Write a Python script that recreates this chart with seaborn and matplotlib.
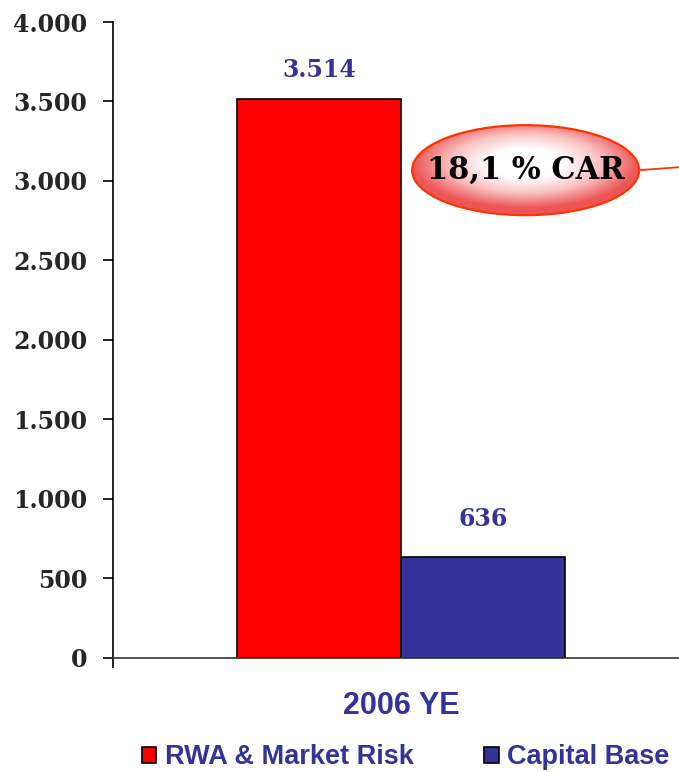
import matplotlib
matplotlib.use("Agg")
import matplotlib.pyplot as plt
import matplotlib.patches as mpatches
from matplotlib.colors import LinearSegmentedColormap
from matplotlib.ticker import FuncFormatter
import numpy as np
import pandas as pd
import seaborn as sns

periods = ["2006 YE"]
series = ["RWA & Market Risk", "Capital Base"]
values = [3514, 636]
colors = ["#FF0000", "#333399"]
car_label = "18,1 % CAR"

sns.set_style("ticks")
plt.rcParams["font.family"] = ["DejaVu Serif"]
sans = ["Liberation Sans", "DejaVu Sans"]

df = pd.DataFrame({"period": periods * len(series), "series": series, "value": values})

fig = plt.figure(figsize=(6.79, 7.72), dpi=100)
ax = fig.add_axes([0.1664, 0.1477, 0.8336, 0.8238])

sns.barplot(data=df, x="period", y="value", hue="series", palette=colors,
            edgecolor="black", linewidth=1.2, legend=False, ax=ax, width=0.8,
            saturation=1)

ax.set_ylim(0, 4000)
ax.set_xlim(-0.703, 0.677)
ax.set_yticks(np.arange(0, 4001, 500))
ax.yaxis.set_major_formatter(FuncFormatter(lambda v, p: f"{v:,.0f}".replace(",", ".")))
ax.tick_params(axis="y", direction="out", length=7.5, width=1.2, color="black",
               labelsize=17, pad=11)
for lab in ax.get_yticklabels():
    lab.set_fontweight("bold")

ax.set_xticks([-0.703])
ax.set_xticklabels([""])
ax.tick_params(axis="x", direction="out", length=7.5, width=1.2, color="black")
ax.set_xlabel("")
ax.set_ylabel("")
ax.text(0, -0.075, periods[0], transform=ax.get_xaxis_transform(), ha="center", va="center",
        fontsize=22, fontweight="bold", color="#333399", family=sans)

for sp in ["top", "right"]:
    ax.spines[sp].set_visible(False)
ax.spines["left"].set_linewidth(1.2)
ax.spines["left"].set_color("black")
ax.spines["bottom"].set_linewidth(1.2)
ax.spines["bottom"].set_color("#333333")

# value labels
for bar, v in zip(ax.patches, values):
    ax.annotate(f"{v:,.0f}".replace(",", "."), (bar.get_x() + bar.get_width() / 2, v),
                xytext=(0, 21 if v > 1000 else 27), textcoords="offset points",
                ha="center", va="center", fontsize=17, fontweight="bold", color="#333399")

# CAR callout ellipse with radial gradient
cx, cy, ew, eh = 0.729, 0.767, 0.401, 0.1415
ax.plot([cx + ew / 2, 1.02], [cy, cy + 0.006], transform=ax.transAxes,
        color="#FF3300", lw=1.3, clip_on=False, zorder=4)
ell = mpatches.Ellipse((cx, cy), ew, eh, transform=ax.transAxes, facecolor="none",
                       edgecolor="#FF3300", lw=1.6, zorder=6)
ax.add_patch(ell)
u, v = np.meshgrid(np.linspace(-1, 1, 200), np.linspace(-1, 1, 200))
r = np.sqrt(u ** 2 + (v + 0.15) ** 2)
cmap = LinearSegmentedColormap.from_list("car", ["#FFFFFF", "#FFFFFF", "#FAC0C0", "#EE5555"])
img = ax.imshow(r, cmap=cmap, vmin=0, vmax=1.0, extent=[cx - ew / 2, cx + ew / 2, cy - eh / 2, cy + eh / 2],
                transform=ax.transAxes, aspect="auto", zorder=5, interpolation="bilinear")
img.set_clip_path(ell)
ax.text(cx, cy, car_label, transform=ax.transAxes, ha="center", va="center",
        fontsize=22, fontweight="bold", color="black", zorder=7)
ax.set_xlim(-0.703, 0.677)
ax.set_ylim(0, 4000)

handles = [mpatches.Patch(facecolor=c, edgecolor="black", lw=1.2) for c in colors]
leg = fig.legend(handles, series, loc="center", bbox_to_anchor=(0.597, 0.019), ncol=2,
                 frameon=False, handlelength=0.55, handleheight=0.55, handletextpad=0.3,
                 columnspacing=2.6,
                 prop={"family": sans, "weight": "bold", "size": 19.5})
for t in leg.get_texts():
    t.set_color("#333399")

fig.savefig("out.png", dpi=100)
